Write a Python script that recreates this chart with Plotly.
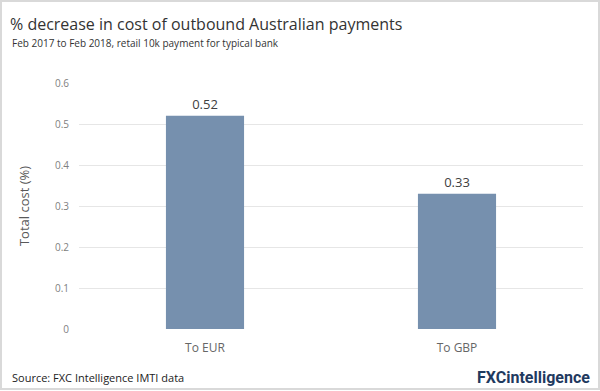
import plotly.graph_objects as go

categories = ["To EUR", "To GBP"]
values = [0.52, 0.33]
value_labels = ["0.52", "0.33"]
tick_vals = [0, 0.1, 0.2, 0.3, 0.4, 0.5, 0.6]
tick_text = ["0", "0.1", "0.2", "0.3", "0.4", "0.5", "0.6"]

W, H = 600, 391
L, R, T, B = 79, 17, 83, 62
pw, ph = W - L - R, H - T - B

fig = go.Figure(go.Bar(
    x=categories, y=values, text=value_labels, textposition="outside",
    textfont=dict(family="Open Sans", size=13, color="#404040"),
    marker=dict(color="#7690ae", line=dict(width=0)),
    width=0.31, cliponaxis=False,
))

def px(x):
    return (x - L) / pw

def py(y):
    return 1 - (y - T) / ph

fig.update_layout(
    width=W, height=H, margin=dict(l=L, r=R, t=T, b=B),
    paper_bgcolor="white", plot_bgcolor="white", showlegend=False,
    font=dict(family="Open Sans", color="#595959"),
    xaxis=dict(showgrid=False, showline=False, ticks="", zeroline=False,
               ticklabelstandoff=10,
               tickfont=dict(size=12, color="#666666")),
    yaxis=dict(range=[0, 0.6], tickvals=tick_vals, ticktext=tick_text,
               showgrid=True, gridcolor="#e6e6e6", gridwidth=1, zeroline=False,
               showline=False, ticks="", ticklen=0, ticklabelstandoff=9,
               tickfont=dict(size=10, color="#808080"),
               title=dict(text="Total cost (%)", font=dict(size=13, color="#595959"), standoff=22)),
    shapes=[dict(type="rect", xref="paper", yref="paper",
                 x0=px(1), x1=px(W - 1), y0=py(H - 2), y1=py(1),
                 line=dict(color="#d9d9d9", width=2), fillcolor="rgba(0,0,0,0)", layer="below")],
    annotations=[
        dict(text="% decrease in cost of outbound Australian payments", xref="paper", yref="paper",
             x=px(8), y=py(11), xanchor="left", yanchor="top", showarrow=False,
             font=dict(family="Open Sans", size=16, color="#333333")),
        dict(text="Feb 2017 to Feb 2018, retail 10k payment for typical bank", xref="paper", yref="paper",
             x=px(10), y=py(34), xanchor="left", yanchor="top", showarrow=False,
             font=dict(family="Open Sans", size=10, color="#333333")),
        dict(text="Source: FXC Intelligence IMTI data", xref="paper", yref="paper",
             x=px(10), y=py(368), xanchor="left", yanchor="top", showarrow=False,
             font=dict(family="Open Sans", size=11, color="#222222")),
        dict(text="<b>FXCintelligence</b>", xref="paper", yref="paper",
             x=px(592), y=py(366), xanchor="right", yanchor="top", showarrow=False,
             font=dict(family="Roboto", size=16, color="#1f3a5f")),
    ],
)

fig.write_html("out.html")
